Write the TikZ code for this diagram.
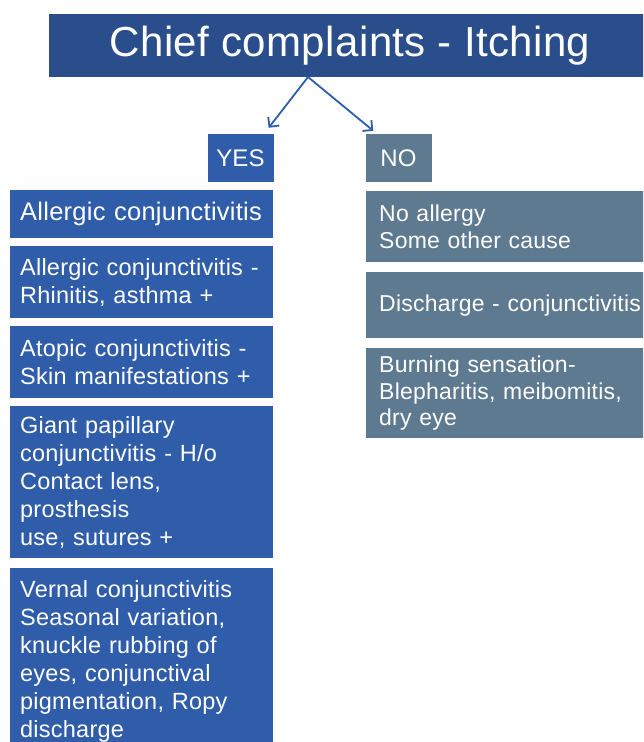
\documentclass[tikz,border=0pt]{standalone}
\usepackage{fontspec}
\setmainfont{Liberation Sans}[LetterSpace=1]
\usetikzlibrary{arrows.meta,calc}
\definecolor{titleblue}{RGB}{42,78,140}
\definecolor{yesblue}{RGB}{47,93,170}
\definecolor{nogrey}{RGB}{94,122,145}
\begin{document}
\begin{tikzpicture}[x=1pt,y=-1pt,text=white,align=left,inner ysep=0pt,
  yesbox/.style={fill=yesblue,anchor=north west,text width=243pt,inner xsep=10pt,font=\fontsize{23.5}{28}\selectfont},
  nobox/.style={fill=nogrey,anchor=north west,text width=300pt,inner xsep=13pt,font=\fontsize{23}{26.5}\selectfont},
  answer/.style={minimum width=66pt,minimum height=48pt,inner sep=0pt,align=center,font=\fontsize{24}{28}\selectfont},
  arr/.style={yesblue,line width=1.8pt,-{Straight Barb[length=7pt,width=14pt]}}]
  \useasboundingbox (0,0) rectangle (643,742);
  \clip (0,0) rectangle (643,742);
  \node[fill=titleblue,minimum width=602pt,minimum height=63pt,inner sep=0pt,align=center,
    font=\fontsize{42}{50}\selectfont] (title) at (350,45.5) {Chief complaints - Itching};
  \node[answer,fill=yesblue] (yes) at (240.5,158) {YES};
  \node[answer,fill=nogrey] (no) at (398.5,158) {NO};
  \coordinate (split) at (308,77);
  \draw[arr] (split) -- ($(yes.north east)+(-5,-6)$);
  \draw[arr] (split) -- ($(no.north west)+(8,-3)$);
  \node[yesbox,minimum height=48pt,font=\fontsize{25.5}{30}\selectfont] (allergic) at (10,190) {Allergic conjunctivitis};
  \node[yesbox,minimum height=72pt] (rhinitis) at (10,246) {Allergic conjunctivitis -\\Rhinitis, asthma +};
  \node[yesbox,minimum height=72pt] (atopic) at (10,326) {Atopic conjunctivitis -\\Skin manifestations +};
  \node[yesbox,minimum height=152pt] (giant) at (10,406) {Giant papillary\\conjunctivitis - H/o\\Contact lens,\\prosthesis\\use, sutures +};
  \node[yesbox,minimum height=186pt] (vernal) at (10,568) {Vernal conjunctivitis\\Seasonal variation,\\knuckle rubbing of\\eyes, conjunctival\\pigmentation, Ropy\\discharge};
  \node[nobox,minimum height=71pt] (noallergy) at (366,191) {No allergy\\Some other cause};
  \node[nobox,minimum height=66pt] (discharge) at (366,272) {Discharge - conjunctivitis};
  \node[nobox,minimum height=90pt] (burning) at (366,348) {Burning sensation-\\Blepharitis, meibomitis,\\dry eye};
\end{tikzpicture}
\end{document}
